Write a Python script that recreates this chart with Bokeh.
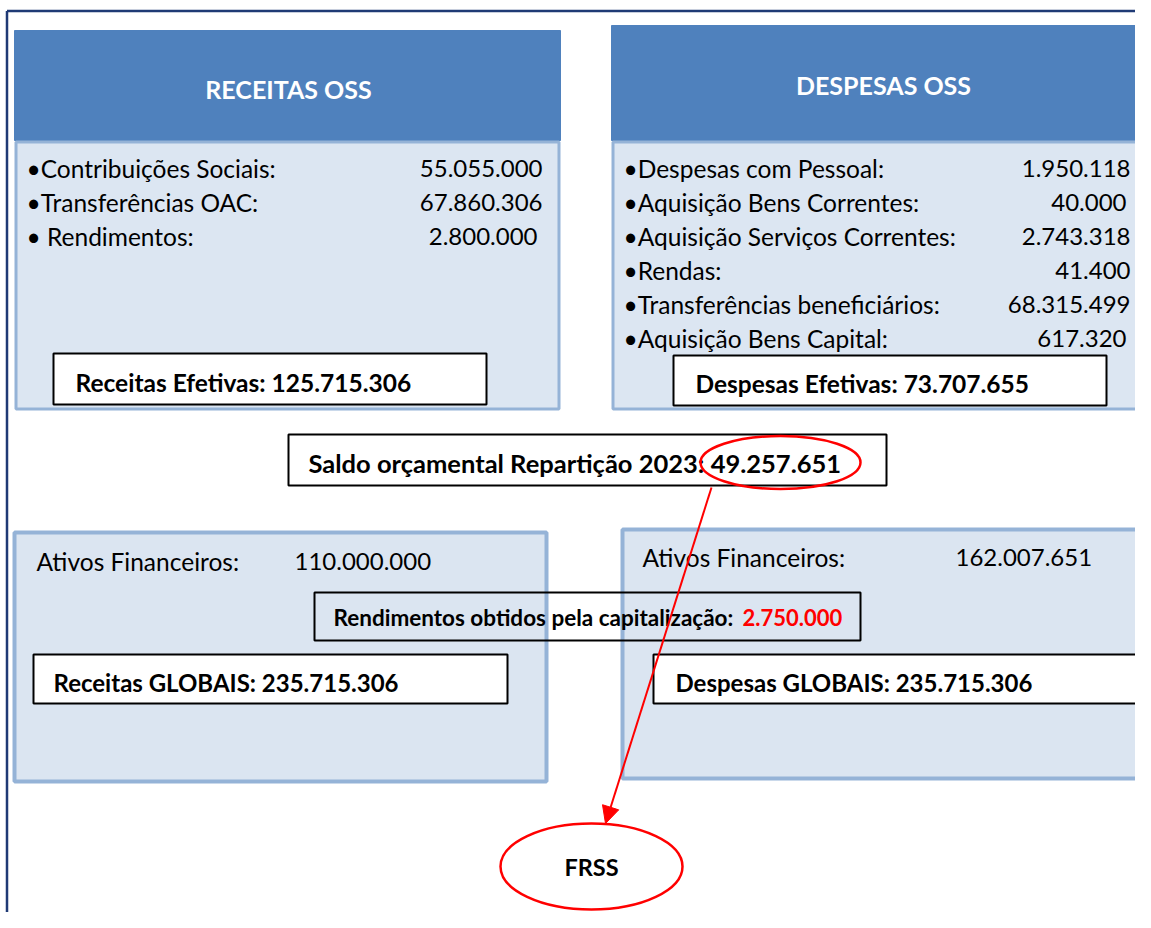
from bokeh.plotting import figure
from bokeh.models import Range1d, Arrow, NormalHead
from bokeh.core.properties import value
from bokeh.embed import file_html
from bokeh.resources import INLINE

# ---------------- data ----------------
receitas_title = "RECEITAS OSS"
despesas_title = "DESPESAS OSS"
receitas_labels = ["•Contribuições Sociais:", "•Transferências OAC:", "• Rendimentos:"]
receitas_values = ["55.055.000", "67.860.306", "2.800.000"]
despesas_labels = ["•Despesas com Pessoal:", "•Aquisição Bens Correntes:",
                   "•Aquisição Serviços Correntes:", "•Rendas:",
                   "•Transferências beneficiários:", "•Aquisição Bens Capital:"]
despesas_values = ["1.950.118", "40.000", "2.743.318", "41.400", "68.315.499", "617.320"]
receitas_efetivas = "Receitas Efetivas: 125.715.306"
despesas_efetivas = "Despesas Efetivas: 73.707.655"
saldo = "Saldo orçamental Repartição 2023: 49.257.651"
ativos_rec = ("Ativos Financeiros:", "110.000.000")
ativos_desp = ("Ativos Financeiros:", "162.007.651")
rend_label = "Rendimentos obtidos pela capitalização: "
rend_value = "2.750.000"
receitas_globais = "Receitas GLOBAIS: 235.715.306"
despesas_globais = "Despesas GLOBAIS: 235.715.306"
frss = "FRSS"

# ---------------- layout / style ----------------
FONT = value("Lato")
HDR = "#4F81BD"
BODY = "#DCE6F2"
EDGE = "#95B3D7"
NAVY = "#1F3A75"
RED = "#FF0000"
REG = "24.5px"
VAL = "24px"
BOLD = "24.5px"

W, H = 1135, 912
p = figure(width=W, height=H, output_backend="svg", toolbar_location=None,
           x_range=Range1d(0, W), y_range=Range1d(H, 0),
           min_border=0, outline_line_color=None, background_fill_color="white")
p.axis.visible = False
p.grid.visible = False

# outer frame
p.segment(x0=[6.5, 6.5], y0=[10.5, 10.5], x1=[1160, 6.5], y1=[10.5, 930],
          line_color=NAVY, line_width=2.5)

# headers
p.quad(left=[14, 611], right=[560, 1160], top=[30, 25], bottom=[140, 140],
       fill_color=HDR, line_color=HDR, line_width=1)
# bodies
p.quad(left=[15.5, 612.5], right=[558.5, 1160], top=[141.5, 141.5], bottom=[408.5, 408.5],
       fill_color=BODY, line_color=EDGE, line_width=3)
# lower boxes
p.quad(left=[14, 622], right=[546, 1160], top=[532, 529], bottom=[781, 778],
       fill_color="#DBE5F1", line_color=EDGE, line_width=4)

# header titles
p.text(x=[288, 883], y=[88, 84], text=[receitas_title, despesas_title],
       text_font=FONT, text_font_style="bold", text_font_size="25px",
       text_color="white", text_align="center", text_baseline="middle")

# receitas items
ry = [168, 202, 236]
p.text(x=[26] * 3, y=ry, text=receitas_labels, text_font=FONT, text_font_size=REG,
       text_color="black", text_baseline="middle")
p.text(x=[542, 542, 537], y=ry, text=receitas_values, text_font=FONT, text_font_size=VAL,
       text_color="black", text_baseline="middle", text_align="right")

# despesas items
dy = [168, 202, 236, 270, 304, 338]
p.text(x=[623] * 6, y=dy, text=despesas_labels, text_font=FONT, text_font_size=REG,
       text_color="black", text_baseline="middle")
p.text(x=[1130, 1126, 1130, 1130, 1130, 1126], y=dy, text=despesas_values, text_font=FONT,
       text_font_size=VAL, text_color="black", text_baseline="middle", text_align="right")

# white boxes (efetivas, saldo)
p.quad(left=[53, 673, 288], right=[486, 1106, 886], top=[353, 355, 434], bottom=[404, 405, 485],
       fill_color="white", line_color="black", line_width=2)
p.text(x=[75, 695], y=[382, 383], text=[receitas_efetivas, despesas_efetivas],
       text_font=FONT, text_font_style="bold", text_font_size=BOLD,
       text_color="black", text_baseline="middle")
p.text(x=[308], y=[462], text=[saldo], text_font=FONT, text_font_style="bold",
       text_font_size="25.5px", text_color="black", text_baseline="middle")

# ativos financeiros
p.text(x=[36, 642], y=[561, 557], text=[ativos_rec[0], ativos_desp[0]], text_font=FONT,
       text_font_size=REG, text_color="black", text_baseline="middle")
p.text(x=[294, 955], y=[561, 557], text=[ativos_rec[1], ativos_desp[1]], text_font=FONT,
       text_font_size=VAL, text_color="black", text_baseline="middle")

# rendimentos box (transparent fill)
p.quad(left=[314], right=[860], top=[592], bottom=[640],
       fill_alpha=0, line_color="black", line_width=2)
p.text(x=[333], y=[617], text=[rend_label], text_font=FONT, text_font_style="bold",
       text_font_size="22.5px", text_color="black", text_baseline="middle")
p.text(x=[742], y=[617], text=[rend_value], text_font=FONT, text_font_style="bold",
       text_font_size="22px", text_color=RED, text_baseline="middle")

# globais boxes
p.quad(left=[33, 653], right=[507, 1138], top=[654, 654], bottom=[703, 703],
       fill_color="white", line_color="black", line_width=2)
p.text(x=[53, 675], y=[682, 682], text=[receitas_globais, despesas_globais], text_font=FONT,
       text_font_style="bold", text_font_size="24px", text_color="black", text_baseline="middle")

# red ellipses
p.ellipse(x=[780, 591], y=[462, 866], width=[160, 182], height=[53, 86],
          fill_color=None, line_color=RED, line_width=2.5)
p.text(x=[591], y=[866], text=[frss], text_font=FONT, text_font_style="bold",
       text_font_size="23.5px", text_color="black", text_align="center", text_baseline="middle")

# arrow
p.add_layout(Arrow(x_start=711, y_start=487, x_end=605, y_end=823, line_color=RED, line_width=2,
                   end=NormalHead(size=17, fill_color=RED, line_color=RED)))

open("out.html", "w").write(file_html(p, INLINE))
